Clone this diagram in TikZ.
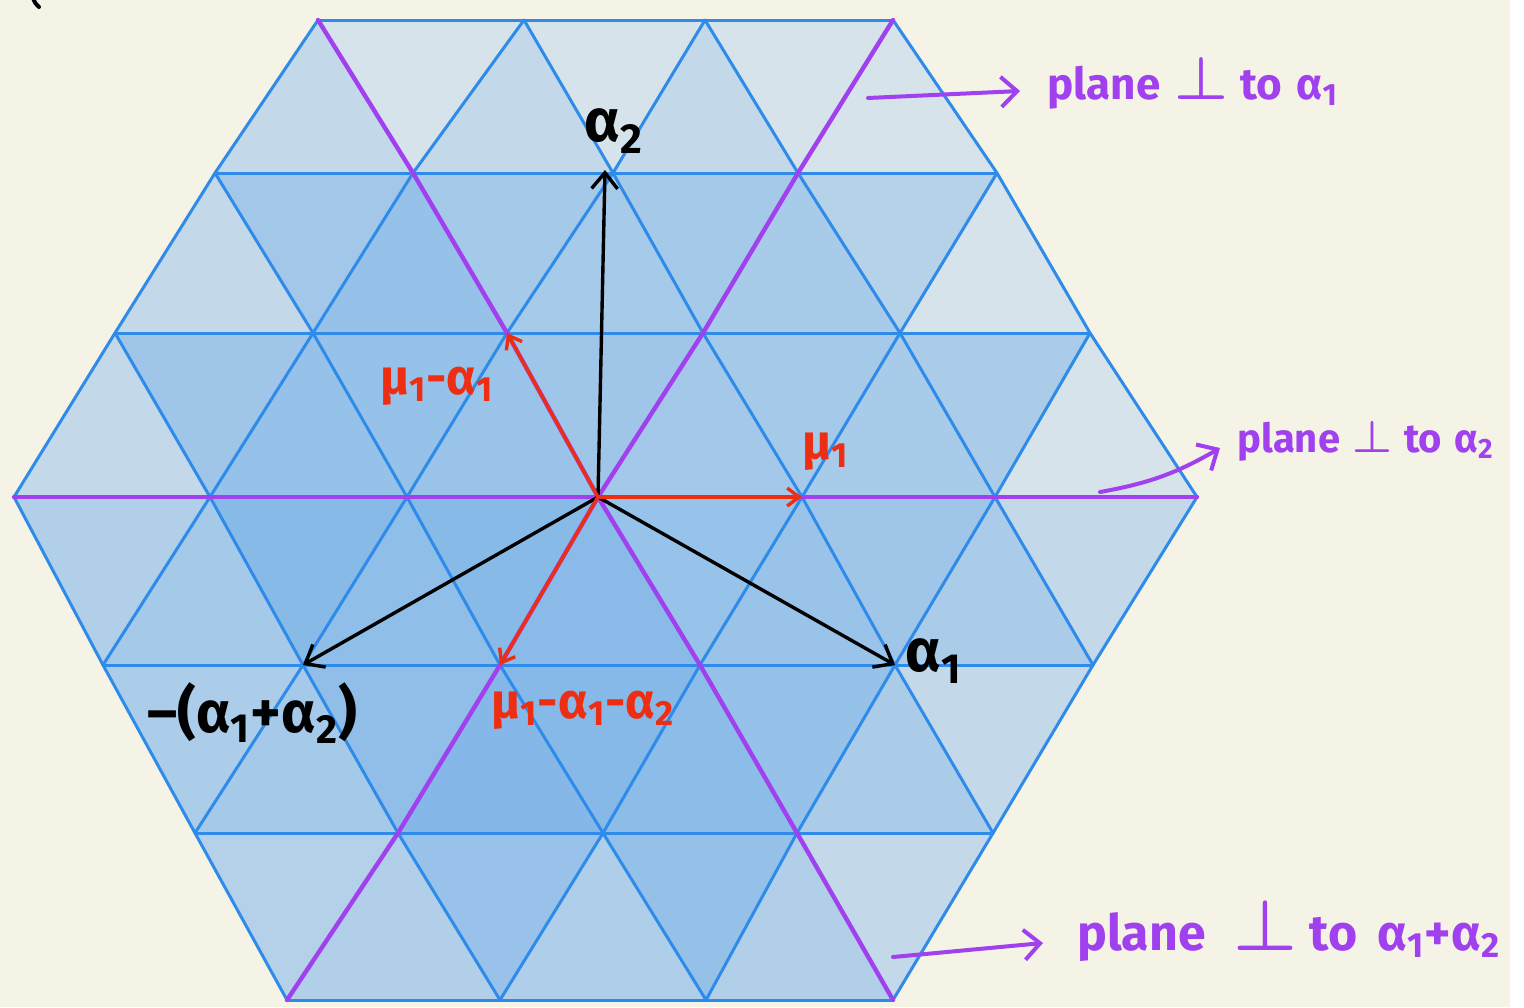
\documentclass[tikz,border=0pt]{standalone}
\usepackage{fontspec}
\usepackage{graphicx}
\setmainfont{Fira Sans}
\usetikzlibrary{arrows.meta}
\definecolor{bgc}{HTML}{F4F3E6}
\definecolor{shlight}{HTML}{DAE5EA}
\definecolor{shdark}{HTML}{7FB5E8}
\definecolor{latc}{HTML}{2E8BEA}
\definecolor{purp}{HTML}{A040EE}
\definecolor{redc}{HTML}{EE2E12}
\newcommand{\bigperp}[1]{\resizebox{#1}{!}{\boldmath$\perp$}}
\begin{document}
\begin{tikzpicture}[x=0.5pt,y=-0.5pt,
  lat/.style={latc,line width=1.5pt,line cap=round,line join=round},
  pln/.style={purp,line width=2.2pt,line cap=round,line join=round},
  blkarr/.style={black,line width=1.7pt,-{Straight Barb[length=8pt,width=13pt]}},
  redarr/.style={redc,line width=1.7pt,-{Straight Barb[length=6pt,width=9pt]}},
  annarr/.style={purp,line width=2pt,line cap=round,-{Straight Barb[length=8pt,width=15pt]}},
  blab/.style={font=\bfseries\fontsize{30}{34}\selectfont,text=black,inner sep=0pt},
  nlab/.style={font=\bfseries\fontsize{29}{33}\selectfont,text=black,inner sep=0pt},
  rlab/.style={font=\bfseries\fontsize{25}{29}\selectfont,text=redc,inner sep=0pt},
  plab/.style={font=\bfseries\fontsize{#1}{#1}\selectfont,text=purp,inner sep=0pt,anchor=base west},
]
\useasboundingbox (0,0) rectangle (1524,1007);
\fill[bgc] (0,0) rectangle (1510,1007);
\fill[white] (1510,0) rectangle (1524,1007);

% lattice vertices v<A>-<B>
\foreach \x [count=\i from 0] in {318,524,705,893} \coordinate (v\i-6) at (\x,20);
\foreach \x [count=\i from 0] in {215,413,613,798,997} \coordinate (v\i-5) at (\x,173);
\foreach \x [count=\i from 0] in {115,313,507,703,900,1090} \coordinate (v\i-4) at (\x,333);
\foreach \x [count=\i from 0] in {14,210,407,598,802,995,1197} \coordinate (v\i-3) at (\x,497);
\foreach \x [count=\i from 1] in {103,303,500,700,895,1093} \coordinate (v\i-2) at (\x,665);
\foreach \x [count=\i from 2] in {195,398,603,797,993} \coordinate (v\i-1) at (\x,833);
\foreach \x [count=\i from 3] in {287,500,706,893} \coordinate (v\i-0) at (\x,1000);

% up triangles
\foreach \A/\B/\p [evaluate=\A as \Ap using int(\A+1), evaluate=\B as \Bp using int(\B+1)] in
 {0/5/25,1/5/25,2/5/25,3/5/3,
  0/4/25,1/4/75,2/4/57,3/4/55,4/4/3,
  0/3/25,1/3/75,2/3/70,3/3/60,4/3/55,5/3/3,
  1/2/58,2/2/82,3/2/88,4/2/70,5/2/52,
  2/1/58,3/1/93,4/1/86,5/1/52,
  3/0/45,4/0/48,5/0/45}
 \fill[shdark!\p!shlight] (v\A-\B) -- (v\Ap-\B) -- (v\A-\Bp) -- cycle;
% down triangles
\foreach \A/\B/\p [evaluate=\A as \Ap using int(\A+1), evaluate=\B as \Bp using int(\B+1)] in
 {0/5/3,1/5/3,2/5/3,
  0/4/62,1/4/58,2/4/58,3/4/40,
  0/3/65,1/3/75,2/3/65,3/3/58,4/3/52,
  0/2/45,1/2/90,2/2/90,3/2/73,4/2/65,5/2/25,
  1/1/50,2/1/80,3/1/92,4/1/75,5/1/25,
  2/0/42,3/0/72,4/0/76,5/0/25}
 \fill[shdark!\p!shlight] (v\Ap-\B) -- (v\A-\Bp) -- (v\Ap-\Bp) -- cycle;

% lattice lines
\foreach \B/\Al/\Ah in {6/0/3,5/0/4,4/0/5,3/0/6,2/1/6,1/2/6,0/3/6}
 \draw[lat] (v\Al-\B) -- (v\Ah-\B);
\foreach \A/\Bl/\Bh in {0/3/6,1/2/6,2/1/6,3/0/6,4/0/5,5/0/4,6/0/3}
 \draw[lat] (v\A-\Bl) \foreach \B in {\Bl,...,\Bh} { -- (v\A-\B) };
\foreach \s/\Al/\Ah [evaluate=\s as \Bs using int(\s-\Al)] in {3/0/3,4/0/4,5/0/5,6/0/6,7/1/6,8/2/6,9/3/6}
 \draw[lat] (v\Al-\Bs) \foreach \A [evaluate=\A as \B using int(\s-\A)] in {\Al,...,\Ah} { -- (v\A-\B) };

% planes (purple)
\draw[pln] (v0-3) -- (v1-3) -- (v2-3) -- (v3-3) -- (v4-3) -- (v5-3) -- (v6-3);
\draw[pln] (v0-6) -- (v1-5) -- (v2-4) -- (v3-3) -- (v4-2) -- (v5-1) -- (v6-0);
\draw[pln] (v3-0) -- (v3-1) -- (v3-2) -- (v3-3) -- (v3-4) -- (v3-5) -- (v3-6);

% vectors
\coordinate (O) at (v3-3);
\coordinate (a2tip) at (605,170);
\draw[blkarr] (O) -- (a2tip);
\draw[blkarr] (O) -- (v5-2);
\draw[blkarr] (O) -- (v2-2);
\draw[redarr] (O) -- (v4-3);
\draw[redarr] (O) -- (v2-4);
\draw[redarr] (O) -- (v3-2);

% labels
\node[blab] (la2) at (614,131) {α\textsubscript{2}};
\node[blab] (la1) at (934,661) {α\textsubscript{1}};
\node[nlab] (lneg) at (252,713) {–(α\textsubscript{1}+α\textsubscript{2})};
\node[rlab] (lm1) at (826,452) {μ\textsubscript{1}};
\node[rlab] (lma) at (437,386) {μ\textsubscript{1}-α\textsubscript{1}};
\node[rlab] (lmaa) at (583,710) {μ\textsubscript{1}-α\textsubscript{1}-α\textsubscript{2}};

% annotations
\node[plab=22] (t1) at (1047,99) {plane\hspace{7pt}\bigperp{27pt}\hspace{6pt}to\hspace{7pt}α\textsubscript{1}};
\node[plab=20] (t2) at (1237,452) {plane\hspace{6pt}\bigperp{20pt}\hspace{6pt}to\hspace{6pt}α\textsubscript{2}};
\node[plab=25] (t3) at (1077,950) {plane\hspace{14pt}\bigperp{32pt}\hspace{6pt}to\hspace{10pt}α\textsubscript{1}+α\textsubscript{2}};
\coordinate (c1) at (868,98);
\coordinate (c2) at (1100,492);
\coordinate (c3) at (893,957);
\draw[annarr] (c1) -- ([shift={(-27,-8)}]t1.base west);
\draw[annarr] (c2) to[bend right=10] ([shift={(-17,-4)}]t2.base west);
\draw[annarr] (c3) -- ([shift={(-34,-7)}]t3.base west);

% stray pen mark at top left
\draw[black,line width=2pt,line cap=round] (33,-2) .. controls (35,3) .. (39,7);
\end{tikzpicture}
\end{document}
